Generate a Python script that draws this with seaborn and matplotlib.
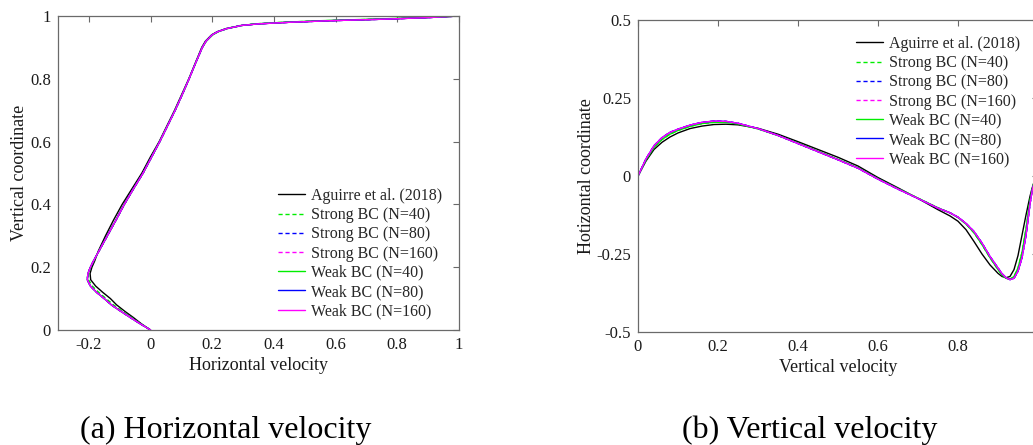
import numpy as np
import pandas as pd
import seaborn as sns
import matplotlib
matplotlib.use("Agg")
import matplotlib.pyplot as plt

# ---------------- data: (a) horizontal velocity along vertical centreline ----------------
y_coord = [0.0, 0.02, 0.04, 0.06, 0.08, 0.10, 0.12, 0.14, 0.16, 0.18, 0.20, 0.22, 0.25,
           0.30, 0.35, 0.40, 0.45, 0.50, 0.55, 0.60, 0.65, 0.70, 0.75, 0.80, 0.85, 0.90,
           0.92, 0.94, 0.95, 0.96, 0.97, 0.975, 0.98, 0.985, 0.99, 0.995, 1.0]
u_aguirre = [0.0, -0.030, -0.056, -0.084, -0.110, -0.130, -0.155, -0.178, -0.194, -0.196,
             -0.190, -0.181, -0.170, -0.146, -0.120, -0.092, -0.060, -0.028, -0.001, 0.028,
             0.053, 0.078, 0.101, 0.124, 0.145, 0.166, 0.178, 0.198, 0.216, 0.245, 0.295,
             0.35, 0.45, 0.58, 0.76, 0.90, 1.0]
u_strong40 = [0.0, -0.032, -0.062, -0.092, -0.120, -0.144, -0.168, -0.189, -0.201, -0.201,
              -0.194, -0.184, -0.168, -0.140, -0.112, -0.085, -0.055, -0.024, 0.003, 0.030,
              0.055, 0.080, 0.103, 0.125, 0.146, 0.168, 0.180, 0.200, 0.218, 0.246, 0.292,
              0.34, 0.43, 0.56, 0.74, 0.89, 1.0]
u_strong80 = [0.0, -0.034, -0.066, -0.097, -0.127, -0.150, -0.175, -0.195, -0.205, -0.203,
              -0.195, -0.185, -0.168, -0.140, -0.112, -0.085, -0.055, -0.024, 0.003, 0.030,
              0.055, 0.080, 0.103, 0.125, 0.146, 0.168, 0.180, 0.200, 0.218, 0.248, 0.296,
              0.35, 0.45, 0.58, 0.76, 0.90, 1.0]
u_strong160 = u_strong80
u_weak40 = [0.0, -0.034, -0.066, -0.097, -0.127, -0.150, -0.175, -0.195, -0.205, -0.203,
            -0.195, -0.185, -0.168, -0.140, -0.112, -0.085, -0.055, -0.024, 0.003, 0.030,
            0.055, 0.080, 0.103, 0.125, 0.146, 0.168, 0.181, 0.202, 0.220, 0.250, 0.298,
            0.34, 0.43, 0.55, 0.72, 0.88, 1.0]
u_weak80 = u_strong80
u_weak160 = u_strong80

# ---------------- data: (b) vertical velocity along horizontal centreline ----------------
x_coord = [0.0, 0.02, 0.04, 0.06, 0.08, 0.10, 0.13, 0.16, 0.19, 0.22, 0.25, 0.30, 0.35,
           0.40, 0.45, 0.50, 0.55, 0.60, 0.65, 0.70, 0.75, 0.78, 0.80, 0.82, 0.84, 0.86,
           0.88, 0.90, 0.91, 0.92, 0.93, 0.94, 0.95, 0.96, 0.97, 0.98, 0.985, 0.99, 1.0]
v_aguirre = [0.0, 0.048, 0.085, 0.108, 0.125, 0.138, 0.152, 0.160, 0.165, 0.166, 0.164,
             0.153, 0.134, 0.110, 0.085, 0.060, 0.032, -0.005, -0.038, -0.072, -0.108,
             -0.128, -0.145, -0.172, -0.210, -0.250, -0.285, -0.312, -0.322, -0.326,
             -0.322, -0.300, -0.255, -0.190, -0.125, -0.065, -0.040, -0.020, 0.0]
v_strong40 = [0.0, 0.052, 0.092, 0.117, 0.134, 0.146, 0.159, 0.168, 0.172, 0.172, 0.167,
              0.151, 0.130, 0.105, 0.079, 0.053, 0.026, -0.009, -0.041, -0.071, -0.102,
              -0.118, -0.133, -0.154, -0.182, -0.220, -0.262, -0.300, -0.317, -0.328,
              -0.331, -0.322, -0.295, -0.245, -0.170, -0.080, -0.045, -0.020, 0.0]
v_strong80 = [0.0, 0.055, 0.097, 0.123, 0.140, 0.150, 0.163, 0.172, 0.176, 0.175, 0.169,
              0.152, 0.130, 0.104, 0.078, 0.052, 0.025, -0.010, -0.042, -0.072, -0.103,
              -0.118, -0.132, -0.152, -0.178, -0.215, -0.258, -0.295, -0.313, -0.326,
              -0.332, -0.328, -0.305, -0.262, -0.190, -0.090, -0.050, -0.022, 0.0]
v_strong160 = v_strong80
v_weak40 = v_strong40
v_weak80 = v_strong80
v_weak160 = v_strong80

labels = ["Aguirre et al. (2018)", "Strong BC (N=40)", "Strong BC (N=80)",
          "Strong BC (N=160)", "Weak BC (N=40)", "Weak BC (N=80)", "Weak BC (N=160)"]
u_series = [u_aguirre, u_strong40, u_strong80, u_strong160, u_weak40, u_weak80, u_weak160]
v_series = [v_aguirre, v_strong40, v_strong80, v_strong160, v_weak40, v_weak80, v_weak160]

colors = ["black", "#00ee00", "#0000ff", "#ff00ff", "#00ee00", "#0000ff", "#ff00ff"]
styles = ["-", (0, (3, 2)), (0, (3, 2)), (0, (3, 2)), "-", "-", "-"]

# ---------------- style ----------------
sns.set_theme(style="white")
plt.rcParams["font.family"] = ["Liberation Serif", "DejaVu Serif"]
plt.rcParams["axes.unicode_minus"] = False

W, H = 1033, 445
fig = plt.figure(figsize=(W / 100, H / 100), dpi=100)
fig.patch.set_facecolor("white")

ax1 = fig.add_axes([58 / W, (H - 330) / H, 401 / W, 314 / H])
ax2 = fig.add_axes([638 / W, (H - 332) / H, 400 / W, 312 / H])

spine_col = "#6a6a6a"
fs_tick = 12
fs_lab = 13
fs_leg = 11.5
txt_col = "#1a1a1a"

for ax in (ax1, ax2):
    ax.set_facecolor("white")
    for s in ax.spines.values():
        s.set_color(spine_col)
        s.set_linewidth(0.9)
    ax.tick_params(direction="in", length=4, width=0.8, color=spine_col,
                   top=True, right=True, labelsize=fs_tick, labelcolor=txt_col, pad=5)

# panel (a)
for lab, u, c, ls in zip(labels, u_series, colors, styles):
    sns.lineplot(x=u, y=y_coord, ax=ax1, color=c, linestyle=ls, linewidth=1.0,
                 sort=False, estimator=None, label=lab)
ax1.set_xlim(-0.3, 1.0)
ax1.set_ylim(0, 1)
ax1.set_xticks([-0.2, 0, 0.2, 0.4, 0.6, 0.8, 1.0])
ax1.set_xticklabels(["-0.2", "0", "0.2", "0.4", "0.6", "0.8", "1"])
ax1.set_yticks([0, 0.2, 0.4, 0.6, 0.8, 1.0])
ax1.set_yticklabels(["0", "0.2", "0.4", "0.6", "0.8", "1"])
ax1.set_xlabel("Horizontal velocity", fontsize=fs_lab, color=txt_col)
ax1.set_ylabel("Vertical coordinate", fontsize=fs_lab, color=txt_col)
ax1.xaxis.set_label_coords(0.5, (330 - 357) / 314)
ax1.yaxis.set_label_coords((28 - 58) / 401, 0.5)

# panel (b)
for lab, v, c, ls in zip(labels, v_series, colors, styles):
    sns.lineplot(x=x_coord, y=v, ax=ax2, color=c, linestyle=ls, linewidth=1.0,
                 sort=False, estimator=None, label=lab)
ax2.set_xlim(0, 1.0)
ax2.set_ylim(-0.5, 0.5)
ax2.set_xticks([0, 0.2, 0.4, 0.6, 0.8, 1.0])
# the tick label at 1 lies beyond the picture's right edge in the reference
ax2.set_xticklabels(["0", "0.2", "0.4", "0.6", "0.8", ""])
ax2.set_yticks([-0.5, -0.25, 0, 0.25, 0.5])
ax2.set_yticklabels(["-0.5", "-0.25", "0", "0.25", "0.5"])
ax2.set_xlabel("Vertical velocity", fontsize=fs_lab, color=txt_col)
ax2.set_ylabel("Hotizontal coordinate", fontsize=fs_lab, color=txt_col)
ax2.xaxis.set_label_coords(0.5, (332 - 359) / 312)
ax2.yaxis.set_label_coords((595 - 638) / 400, 0.5)

# legends
for ax, (lx, ly) in ((ax1, (278, 188)), (ax2, (856, 36))):
    handles, labs = ax.get_legend_handles_labels()
    ax.legend(handles, labs, loc="upper left", bbox_to_anchor=(lx / W, 1 - ly / H),
              bbox_transform=fig.transFigure, frameon=False, fontsize=fs_leg,
              handlelength=1.7, handletextpad=0.35, labelspacing=0.2, borderpad=0,
              borderaxespad=0)

# captions
fig.text(226 / W, 1 - 430 / H, "(a) Horizontal velocity", ha="center", va="center",
         fontsize=23, color="black")
fig.text(810 / W, 1 - 430 / H, "(b) Vertical velocity", ha="center", va="center",
         fontsize=23, color="black")

fig.savefig("out.png", dpi=100, facecolor="white")
